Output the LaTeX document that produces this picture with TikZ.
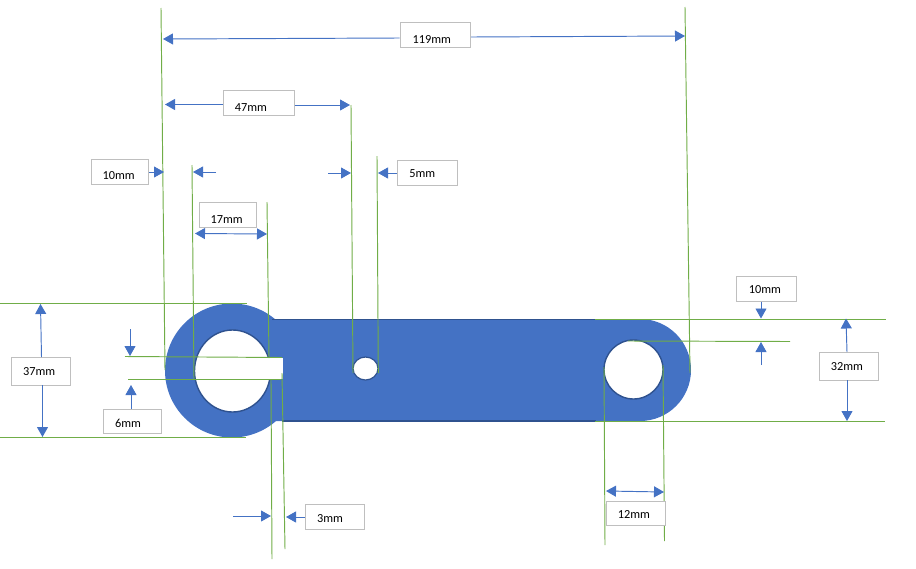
\documentclass[tikz,border=0pt]{standalone}
\usepackage{fontspec}
\setmainfont{Carlito}
\usetikzlibrary{arrows.meta}
\definecolor{bluefill}{HTML}{4472C4}
\definecolor{blueedge}{HTML}{2F528F}
\definecolor{dimgreen}{HTML}{70AD47}
\definecolor{boxgray}{HTML}{BFBFBF}
\newcommand\tl[3]{\raisebox{-#2pt}[0pt][0pt]{\makebox[0pt]{\hspace*{#1pt}\hspace*{#1pt}#3}}}
\tikzset{
  x=1pt,y=-1pt,
  ext/.style={draw=dimgreen,line width=0.95pt},
  dimarrow/.style={draw=bluefill,line width=0.95pt,-{Triangle[length=10pt,width=11pt]}},
  dimboth/.style={draw=bluefill,line width=0.95pt,{Triangle[length=10pt,width=11pt]}-{Triangle[length=10pt,width=11pt]}},
  dimbox/.style={draw=boxgray,fill=white,line width=1pt,inner sep=0pt,font=\fontsize{12.3}{14}\selectfont,text=black},
}
\newcommand\dbox[8]{%
  \node[dimbox,minimum width={#4-#2},minimum height={#5-#3}] (#1) at ({(#2+#4)/2},{(#3+#5)/2}) {\tl{#6}{#7}{#8}};}
\begin{document}
\begin{tikzpicture}
\useasboundingbox (0,0) rectangle (916,568);
% part
\path[fill=bluefill] (232,303.5) arc[start angle=-90,end angle=270,x radius=67,y radius=67];
\fill[bluefill] (262,319) -- (640,319) arc[start angle=-90,end angle=90,x radius=51,y radius=51] -- (262,421) -- cycle;
\draw[blueedge,line width=1.5pt] (272,319.3) -- (596,319.3);
\draw[blueedge,line width=1.5pt] (282,421) -- (596,421);
\draw[blueedge,line width=1.4pt,fill=white] (232.5,371) ellipse[x radius=38,y radius=41];
\draw[blueedge,line width=1.4pt,fill=white] (633.5,369.5) ellipse[x radius=29.5,y radius=29.5];
\draw[blueedge,line width=1.2pt,fill=white] (365.5,368.5) ellipse[x radius=12.5,y radius=11.5];
\fill[white] (232,357.5) rectangle (283,379);
% named ends
\foreach \n/\x/\y in {
  a1/161/8,a2/165/370,b1/685/7,b2/690/373,c1/351/105,
  c2/353/373,d1/377/156,d2/378.3/373,e1/192/165,e2/194/379,f1/267/202,f2/269/358,
  g1/271/380,g2/272/559,h1/282/373,h2/285/549,
  i1/0/303.5,i2/247/303.5,j1/0/437,j2/246/437,k1/125/356.5,k2/282/357.5,
  l1/128/379,l2/281/379,m1/595/319.5,m2/886/319.5,n1/628/341,n2/790/341.5,
  o1/595/421.5,o2/885/421.5,p1/604/367,p2/605/545,q1/663/365,q2/664.5/541}
  {\coordinate (\n) at (\x,\y);}
\foreach \s/\t in {a1/a2,b1/b2,c1/c2,d1/d2,e1/e2,f1/f2,g1/g2,h1/h2,i1/i2,j1/j2,k1/k2,l1/l2,m1/m2,n1/n2,o1/o2,p1/p2,q1/q2}
  \draw[ext] (\s) -- (\t);
% boxes
\dbox{b119}{400}{22.3}{470.5}{47.5}{-3.5}{8.5}{119mm}
\dbox{b47}{223}{90}{294}{115}{-7.5}{8.5}{47mm}
\dbox{b10a}{91}{159}{148.5}{184.5}{-1}{8}{10mm}
\dbox{b5}{397}{160}{457.5}{185.5}{-5}{5}{5mm}
\dbox{b17}{199}{202}{256.5}{227}{-1}{8.5}{17mm}
\dbox{b37}{11}{357}{70.5}{385}{-1.5}{4}{37mm}
\dbox{b6}{103}{409}{161}{433}{-4}{6}{6mm}
\dbox{b10b}{736}{276}{796}{301.5}{-1}{5}{10mm}
\dbox{b32}{819}{352}{878}{380}{-1.5}{4}{32mm}
\dbox{b3}{305}{504}{364.5}{529}{-4.75}{5.5}{3mm}
\dbox{b12}{606}{501.3}{665.7}{525.3}{-2}{5.5}{12mm}
% arrows
\draw[dimarrow] (b119.west |- 0,38) -- (163,39);
\draw[dimarrow] (b119.east |- 0,37) -- (685,36);
\draw[dimarrow] (b47.west |- 0,104.5) -- (165,104.5);
\draw[dimarrow] (b47.east |- 0,105) -- (350,105);
\draw[dimarrow] (b10a.east |- 0,172) -- (164,172);
\coordinate (s1) at (216,172); \coordinate (s2) at (193,172);
\draw[dimarrow] (s1) -- (s2);
\coordinate (s3) at (328,173); \coordinate (s4) at (351,173);
\draw[dimarrow] (s3) -- (s4);
\draw[dimarrow] (b5.west |- 0,173) -- (378,173);
\coordinate (s5) at (195,233.5); \coordinate (s6) at (267,234);
\draw[dimboth] (s5) -- (s6);
\draw[dimarrow] (41.5,357) -- (40.5,304);
\draw[dimarrow] (42.5,385) -- (42.5,437);
\draw[dimarrow] (131,409) -- (131,385);
\coordinate (s7) at (130,329); \coordinate (s8) at (130,356);
\draw[dimarrow] (s7) -- (s8);
\draw[dimarrow] (761,301.5) -- (761,318.5);
\coordinate (s9) at (761,365); \coordinate (s10) at (761,342);
\draw[dimarrow] (s9) -- (s10);
\draw[dimarrow] (847,352) -- (846,318.5);
\draw[dimarrow] (847,380) -- (847,421);
\coordinate (s11) at (606,491); \coordinate (s12) at (664,492);
\draw[dimboth] (s11) -- (s12);
\draw[dimarrow] (b3.west |- 0,517) -- (286,517);
\coordinate (s13) at (233,516); \coordinate (s14) at (271,516);
\draw[dimarrow] (s13) -- (s14);
\end{tikzpicture}
\end{document}
